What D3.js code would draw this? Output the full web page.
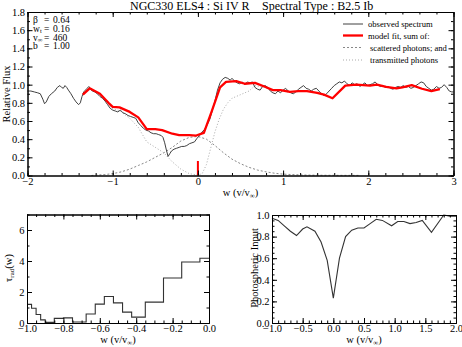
<!DOCTYPE html>
<html><head><meta charset="utf-8">
<script src="https://cdn.jsdelivr.net/npm/d3@7"></script>
<style>body{margin:0;background:#fff}svg{display:block;font-family:"Liberation Serif","Times New Roman",serif}svg text{font-family:"Liberation Serif","Times New Roman",serif}</style>
</head><body><svg id="c" width="462" height="347"></svg>
<script>
// ---------- DATA ----------
const titleLeft = "NGC330 ELS4 : Si IV R";
const titleRight = "Spectral Type : B2.5 Ib";
const params = [["β","0.64"],["w","0.16","t"],["v","460","∞"],["b","1.00"]];
const legendLabels = ["observed spectrum","model fit, sum of:","scattered photons; and","transmitted photons"];

const observed = [[-2.00,0.93],[-1.96,0.93],[-1.92,0.92],[-1.88,0.91],[-1.85,0.90],[-1.82,0.84],[-1.80,0.79],[-1.78,0.81],[-1.75,0.87],[-1.72,0.90],[-1.68,0.93],[-1.65,0.97],[-1.62,0.99],[-1.60,0.97],[-1.58,0.96],[-1.56,0.99],[-1.54,0.97],[-1.52,0.94],[-1.49,0.90],[-1.46,0.85],[-1.43,0.81],[-1.40,0.78],[-1.38,0.80],[-1.36,0.87],[-1.34,0.92],[-1.32,0.94],[-1.30,0.96],[-1.28,0.98],[-1.26,0.95],[-1.24,0.93],[-1.21,0.92],[-1.18,0.90],[-1.15,0.87],[-1.12,0.85],[-1.09,0.82],[-1.06,0.78],[-1.03,0.74],[-1.00,0.72],[-0.97,0.71],[-0.94,0.70],[-0.91,0.72],[-0.88,0.69],[-0.85,0.68],[-0.82,0.66],[-0.79,0.65],[-0.76,0.64],[-0.73,0.63],[-0.70,0.58],[-0.67,0.55],[-0.64,0.52],[-0.61,0.50],[-0.58,0.49],[-0.55,0.47],[-0.52,0.46],[-0.49,0.46],[-0.46,0.45],[-0.43,0.44],[-0.41,0.42],[-0.39,0.36],[-0.37,0.28],[-0.35,0.21],[-0.33,0.24],[-0.31,0.27],[-0.28,0.29],[-0.25,0.30],[-0.22,0.31],[-0.19,0.32],[-0.16,0.32],[-0.13,0.33],[-0.10,0.35],[-0.07,0.36],[-0.04,0.37],[-0.01,0.41],[0.02,0.44],[0.05,0.48],[0.08,0.51],[0.11,0.56],[0.14,0.62],[0.17,0.72],[0.20,0.82],[0.23,0.94],[0.26,1.02],[0.29,1.06],[0.32,1.08],[0.35,1.07],[0.38,1.05],[0.40,1.07],[0.43,1.04],[0.46,1.02],[0.49,1.01],[0.52,1.03],[0.55,1.00],[0.58,1.03],[0.61,1.02],[0.64,1.03],[0.67,0.97],[0.70,0.95],[0.73,0.94],[0.76,0.98],[0.79,0.99],[0.82,0.97],[0.85,0.93],[0.88,0.91],[0.91,0.90],[0.94,0.93],[0.97,0.91],[1.00,0.94],[1.03,0.96],[1.06,0.93],[1.09,0.91],[1.12,0.90],[1.15,0.92],[1.18,0.95],[1.21,0.97],[1.24,0.99],[1.27,0.96],[1.30,0.95],[1.33,0.93],[1.36,0.95],[1.39,0.96],[1.42,0.93],[1.45,0.90],[1.48,0.88],[1.51,0.90],[1.54,0.93],[1.57,0.96],[1.60,0.99],[1.63,1.01],[1.66,1.03],[1.69,1.02],[1.72,1.04],[1.75,1.01],[1.78,0.99],[1.81,1.02],[1.84,1.00],[1.87,1.01],[1.90,0.98],[1.93,1.00],[1.96,1.02],[1.99,0.99],[2.02,1.00],[2.05,1.01],[2.08,1.03],[2.11,1.00],[2.14,0.98],[2.17,0.99],[2.20,0.97],[2.23,0.98],[2.26,0.96],[2.29,0.95],[2.32,0.97],[2.35,0.98],[2.38,0.97],[2.41,0.99],[2.44,0.97],[2.47,0.98],[2.50,0.96],[2.53,0.97],[2.56,0.99],[2.59,1.01],[2.62,1.03],[2.65,1.02],[2.68,0.98],[2.71,0.96],[2.74,0.94],[2.77,0.95],[2.80,0.98],[2.83,0.96],[2.86,0.97],[2.89,1.00],[2.92,0.97],[2.95,0.93],[2.98,0.92],[3.00,0.92]];

const modelFit = [[-1.35,0.89],[-1.27,0.96],[-1.15,0.90],[-1.05,0.80],[-1.00,0.755],[-0.92,0.75],[-0.80,0.70],[-0.70,0.64],[-0.60,0.51],[-0.50,0.51],[-0.42,0.50],[-0.30,0.46],[-0.22,0.445],[-0.10,0.445],[-0.02,0.44],[0.07,0.47],[0.16,0.70],[0.26,0.97],[0.33,1.03],[0.45,1.04],[0.55,1.01],[0.67,1.02],[0.78,0.98],[0.88,0.94],[0.97,0.94],[1.08,0.92],[1.18,0.93],[1.28,0.93],[1.40,0.91],[1.48,0.89],[1.58,0.85],[1.73,0.99],[1.86,1.00],[2.02,0.99],[2.10,1.00],[2.21,0.975],[2.33,0.96],[2.40,0.97],[2.51,0.995],[2.63,0.955],[2.74,0.93],[2.84,0.95]];

const scattered = [[-1.25,0.0],[-1.1,0.01],[-1.0,0.02],[-0.9,0.04],[-0.8,0.07],[-0.7,0.11],[-0.6,0.15],[-0.5,0.20],[-0.4,0.25],[-0.3,0.31],[-0.2,0.38],[-0.1,0.42],[0.0,0.43],[0.1,0.40],[0.2,0.33],[0.3,0.25],[0.4,0.18],[0.5,0.13],[0.6,0.09],[0.7,0.06],[0.8,0.04],[0.9,0.025],[1.0,0.015],[1.2,0.006],[1.4,0.003],[1.6,0.002],[1.9,0.001]];

const transmitted = [[-1.35,0.89],[-1.27,0.955],[-1.15,0.89],[-1.05,0.79],[-1.0,0.735],[-0.92,0.715],[-0.8,0.63],[-0.7,0.53],[-0.6,0.37],[-0.5,0.31],[-0.4,0.25],[-0.3,0.15],[-0.2,0.07],[-0.1,0.02],[0.0,0.005],[0.05,0.02],[0.1,0.12],[0.15,0.30],[0.2,0.48],[0.25,0.62],[0.3,0.73],[0.35,0.80],[0.4,0.85],[0.5,0.89],[0.6,0.93],[0.67,0.99],[0.78,0.97],[0.88,0.935],[0.97,0.935],[1.08,0.915],[1.18,0.925],[1.28,0.93],[1.40,0.91],[1.48,0.89],[1.58,0.85],[1.73,0.99],[1.86,1.00],[2.02,0.99],[2.10,1.00],[2.21,0.975],[2.33,0.96],[2.40,0.97],[2.51,0.995],[2.63,0.955],[2.74,0.93],[2.84,0.95]];

const restMarker = [0, 0.16];

// bottom-left: tau_rad(w) histogram
const tauEdges = [-1.0,-0.975,-0.95,-0.925,-0.9,-0.85,-0.8,-0.75,-0.675,-0.625,-0.575,-0.525,-0.475,-0.425,-0.35,-0.25,-0.15,-0.05,0.0];
const tauValues = [1.2,0.95,0.55,0.2,0.04,0.3,0.33,0.06,0.58,1.22,1.71,1.3,0.7,0.38,1.35,2.9,3.94,4.18];

// bottom-right: photospheric input
const photW = [-1.0,-0.9,-0.8,-0.7,-0.6,-0.5,-0.43,-0.3,-0.2,-0.1,0.0,0.1,0.2,0.3,0.4,0.5,0.6,0.7,0.8,0.95,1.05,1.15,1.25,1.35,1.45,1.6,1.8,1.9,2.0];
const photV = [0.97,0.95,0.9,0.85,0.81,0.87,0.89,0.85,0.75,0.58,0.23,0.6,0.8,0.86,0.88,0.88,0.92,0.96,0.95,0.9,0.94,0.94,0.92,0.93,0.95,0.84,1.0,0.99,0.99];

// ---------- DRAW ----------
const svg = d3.select("#c");
const FONT = '"Liberation Serif","Times New Roman",serif';
const FS = 10.5;

function addAxes(x, y, o) {
  const g = svg.append("g");
  const b = y.range()[0], t = y.range()[1], l = x.range()[0], r = x.range()[1];
  const style = s => s.attr("font-family", FONT).attr("font-size", FS)
      .call(s => s.selectAll("path,line").attr("stroke", "#000"));
  const mk = (fn, vals, fmt, len, pad) => fn.tickValues(vals).tickFormat(fmt).tickSizeInner(-len).tickSizeOuter(0).tickPadding(pad);
  const blank = () => "";
  g.append("g").attr("transform", `translate(0,${b})`).call(mk(d3.axisBottom(x), o.xMinor, blank, 2.5, 2)).call(style);
  g.append("g").attr("transform", `translate(0,${t})`).call(mk(d3.axisTop(x), o.xMinor, blank, 2.5, 2)).call(style);
  g.append("g").attr("transform", `translate(${l},0)`).call(mk(d3.axisLeft(y), o.yMinor, blank, 2.5, 2)).call(style);
  g.append("g").attr("transform", `translate(${r},0)`).call(mk(d3.axisRight(y), o.yMinor, blank, 2.5, 2)).call(style);
  g.append("g").attr("transform", `translate(0,${b})`).call(mk(d3.axisBottom(x), o.xMajor, o.xFmt, 5, 2)).call(style);
  g.append("g").attr("transform", `translate(0,${t})`).call(mk(d3.axisTop(x), o.xMajor, blank, 5, 2)).call(style);
  g.append("g").attr("transform", `translate(${l},0)`).call(mk(d3.axisLeft(y), o.yMajor, o.yFmt, 5, 2.5)).call(style);
  g.append("g").attr("transform", `translate(${r},0)`).call(mk(d3.axisRight(y), o.yMajor, blank, 5, 2)).call(style);
  g.selectAll(".tick text").attr("fill", "#000");
}
const rng = (a, b, s) => d3.range(Math.round((b - a) / s) + 1).map(i => +(a + i * s).toFixed(4));

function xTitle(cx, y) {
  const t = svg.append("text").attr("x", cx).attr("y", y).attr("text-anchor", "middle").attr("font-size", FS);
  t.append("tspan").text("w (v/v");
  t.append("tspan").attr("font-size", 7).attr("dy", 2).text("∞");
  t.append("tspan").attr("dy", -2).text(")");
}

// ---- top panel ----
const xT = d3.scaleLinear().domain([-2, 3]).range([27.5, 453.5]);
const yT = d3.scaleLinear().domain([0, 1.8]).range([175.5, 12]);
const lineT = d3.line().x(d => xT(d[0])).y(d => yT(d[1]));

svg.append("path").attr("d", lineT(scattered)).attr("fill", "none").attr("stroke", "#888").attr("stroke-width", 1).attr("stroke-dasharray", "2,2");
svg.append("path").attr("d", lineT(transmitted)).attr("fill", "none").attr("stroke", "#aaa").attr("stroke-width", 1).attr("stroke-dasharray", "1,2");
svg.append("path").attr("d", lineT(observed)).attr("fill", "none").attr("stroke", "#404040").attr("stroke-width", 1);
svg.append("path").attr("d", lineT(modelFit)).attr("fill", "none").attr("stroke", "#ff0000").attr("stroke-width", 2.3).attr("stroke-linejoin", "round");
svg.append("line").attr("x1", xT(restMarker[0])).attr("x2", xT(restMarker[0])).attr("y1", yT(0)).attr("y2", yT(restMarker[1])).attr("stroke", "#ff0000").attr("stroke-width", 2);

addAxes(xT, yT, {xMajor: rng(-2, 3, 1), xMinor: rng(-2, 3, 0.2), yMajor: rng(0, 1.8, 0.2), yMinor: rng(0, 1.8, 0.1), xFmt: d3.format("d"), yFmt: d3.format(".1f")});

svg.append("text").attr("x", 130).attr("y", 9.5).attr("font-size", 12).text(titleLeft);
svg.append("text").attr("x", 262).attr("y", 9.5).attr("font-size", 12).text(titleRight);

svg.append("text").attr("transform", "translate(10,94) rotate(-90)").attr("text-anchor", "middle").attr("font-size", FS).text("Relative Flux");
xTitle(240.5, 196);

// parameters
params.forEach((p, i) => {
  const yy = 23 + i * 8.8;
  const t = svg.append("text").attr("x", 33).attr("y", yy).attr("font-size", 9.5);
  t.append("tspan").text(p[0]);
  if (p[2]) t.append("tspan").attr("font-size", 6.5).attr("dy", 1.5).text(p[2]);
  svg.append("text").attr("x", 44).attr("y", yy).attr("font-size", 9.5).text("=");
  svg.append("text").attr("x", 53).attr("y", yy).attr("font-size", 9.5).text(p[1]);
});

// legend
const legStyles = [
  {stroke: "#404040", w: 1, dash: null},
  {stroke: "#ff0000", w: 2.3, dash: null},
  {stroke: "#888", w: 1, dash: "2,2"},
  {stroke: "#aaa", w: 1, dash: "1,2"}
];
const legY = [24, 35.5, 47.5, 60];
legendLabels.forEach((s, i) => {
  svg.append("line").attr("x1", 343).attr("x2", 363).attr("y1", legY[i]).attr("y2", legY[i])
    .attr("stroke", legStyles[i].stroke).attr("stroke-width", legStyles[i].w).attr("stroke-dasharray", legStyles[i].dash);
  svg.append("text").attr("x", i >= 2 ? 370 : 368).attr("y", legY[i] + 3).attr("font-size", 8.6).text(s);
});

// ---- bottom-left ----
const xL = d3.scaleLinear().domain([-1, 0]).range([27, 209]);
const yL = d3.scaleLinear().domain([0, 7]).range([323, 214.5]);
const stepPts = tauValues.map((v, i) => [tauEdges[i], v]).concat([[tauEdges[tauEdges.length - 1], tauValues[tauValues.length - 1]]]);
svg.append("path").attr("d", d3.line().x(d => xL(d[0])).y(d => yL(d[1])).curve(d3.curveStepAfter)(stepPts))
  .attr("fill", "none").attr("stroke", "#333").attr("stroke-width", 1.1);
addAxes(xL, yL, {xMajor: rng(-1, 0, 0.2), xMinor: rng(-1, 0, 0.05), yMajor: [0, 2, 4, 6], yMinor: rng(0, 7, 1), xFmt: d3.format(".1f"), yFmt: d3.format("d")});
const tl = svg.append("text").attr("transform", "translate(12,268) rotate(-90)").attr("text-anchor", "middle").attr("font-size", FS);
tl.append("tspan").text("τ");
tl.append("tspan").attr("font-size", 7).attr("dy", 2).text("rad");
tl.append("tspan").attr("dy", -2).text("(w)");
xTitle(118, 342.5);

// ---- bottom-right ----
const xR = d3.scaleLinear().domain([-1, 2]).range([272, 456]);
const yR = d3.scaleLinear().domain([0, 1]).range([323, 215]);
svg.append("path").attr("d", d3.line().x((d, i) => xR(photW[i])).y(d => yR(d))(photV))
  .attr("fill", "none").attr("stroke", "#333").attr("stroke-width", 1.1);
addAxes(xR, yR, {xMajor: rng(-1, 2, 0.5), xMinor: rng(-1, 2, 0.1), yMajor: rng(0, 1, 0.2), yMinor: rng(0, 1, 0.05), xFmt: d3.format(".1f"), yFmt: d3.format(".1f")});
svg.append("text").attr("transform", "translate(258,268) rotate(-90)").attr("text-anchor", "middle").attr("font-size", FS).text("Photospheric Input");
xTitle(364, 342.5);
</script></body></html>
